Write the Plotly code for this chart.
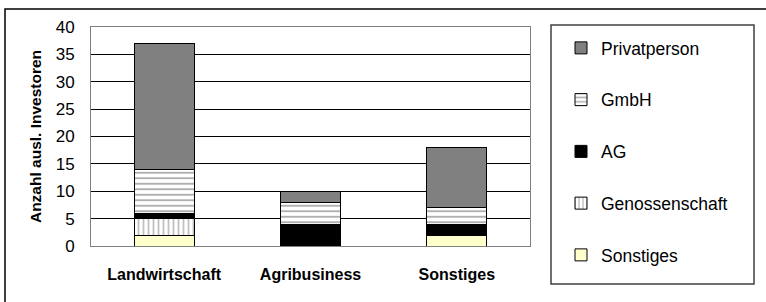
import plotly.graph_objects as go

categories = ["Landwirtschaft", "Agribusiness", "Sonstiges"]
sonstiges = [2, 0, 2]
genossenschaft = [3, 0, 0]
ag = [1, 4, 2]
gmbh = [8, 4, 3]
privatperson = [23, 2, 11]
y_ticks = [0, 5, 10, 15, 20, 25, 30, 35, 40]

FONT = "Liberation Sans, Arial, sans-serif"

fig = go.Figure()
line = dict(color="black", width=1)
fig.add_trace(go.Bar(name="Sonstiges", x=categories, y=sonstiges, legendgroup="e", legendrank=5,
                     marker=dict(color="#FFFFCC", line=line)))
fig.add_trace(go.Bar(name="Genossenschaft", x=categories, y=genossenschaft, legendgroup="d", legendrank=4,
                     marker=dict(color="white", line=line,
                                 pattern=dict(shape="|", fgcolor="#808080", bgcolor="white",
                                              size=5, solidity=0.35, fillmode="overlay"))))
fig.add_trace(go.Bar(name="AG", x=categories, y=ag, legendgroup="c", legendrank=3,
                     marker=dict(color="black", line=line)))
fig.add_trace(go.Bar(name="GmbH", x=categories, y=gmbh, legendgroup="b", legendrank=2,
                     marker=dict(color="white", line=line,
                                 pattern=dict(shape="-", fgcolor="#606060", bgcolor="white",
                                              size=5.5, solidity=0.35, fillmode="overlay"))))
fig.add_trace(go.Bar(name="Privatperson", x=categories, y=privatperson, legendgroup="a", legendrank=1,
                     marker=dict(color="#808080", line=line)))

fig.update_layout(
    width=766, height=302,
    margin=dict(l=91, r=236, t=27, b=56, autoexpand=False),
    barmode="stack", bargap=0.59,
    paper_bgcolor="white", plot_bgcolor="white",
    font=dict(family=FONT, size=16, color="black"),
    showlegend=True,
    legend=dict(x=(561 - 91) / 439, y=(246 - 30) / 219, xanchor="left", yanchor="top",
                traceorder="grouped", tracegroupgap=26, maxheight=400,
                bgcolor="rgba(0,0,0,0)", borderwidth=0,
                font=dict(family=FONT, size=17.5, color="black")),
)
fig.update_xaxes(showgrid=False, showline=True, linecolor="#808080", linewidth=1, mirror=True,
                 automargin=False,
                 tickfont=dict(family=FONT, size=16, color="black", weight="bold"),
                 ticks="", ticklabelstandoff=14)
fig.update_yaxes(range=[0, 40], tickvals=y_ticks, showgrid=True, gridcolor="black", gridwidth=1,
                 zeroline=False, showline=True, linecolor="#808080", linewidth=1, mirror=True,
                 automargin=False, ticks="", ticklabelstandoff=12,
                 tickfont=dict(family=FONT, size=17, color="black"),
                 title=dict(text="Anzahl ausl. Investoren", standoff=10,
                            font=dict(family=FONT, size=15.5, color="black", weight="bold")))

# outer chart border and legend frame
fig.add_shape(type="rect", xref="paper", yref="paper",
              x0=(5 - 91) / 439, x1=(790 - 91) / 439, y0=(246 - 320) / 219, y1=(246 - 9) / 219,
              line=dict(color="black", width=1.5), fillcolor="rgba(0,0,0,0)", layer="below")
fig.add_shape(type="rect", xref="paper", yref="paper",
              x0=(551 - 91) / 439, x1=(754 - 91) / 439, y0=(246 - 284) / 219, y1=(246 - 25) / 219,
              line=dict(color="#404040", width=1.5), fillcolor="rgba(0,0,0,0)")

fig.write_html("out.html", config={"displayModeBar": False},
               post_script="document.body.style.margin='0';document.body.style.overflow='hidden';")
